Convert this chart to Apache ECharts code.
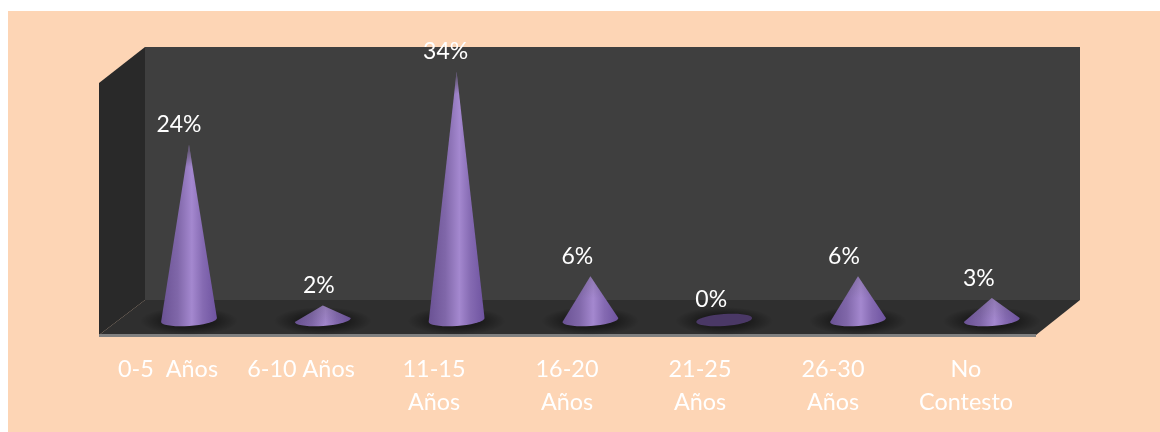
<!DOCTYPE html>
<html>
<head>
<meta charset="utf-8">
<style>html,body{margin:0;padding:0;background:#fff}#c{width:1160px;height:432px}</style>
<script src="https://cdn.jsdelivr.net/npm/echarts@6/dist/echarts.min.js"></script>
</head>
<body>
<div id="c"></div>
<script>
const categories = ['0-5  Años', '6-10 Años', '11-15\nAños', '16-20\nAños', '21-25\nAños', '26-30\nAños', 'No\nContesto'];
const values = [24, 2, 34, 6, 0, 6, 3];
const labelNudge = [-10, -4, -11, -13, -13, -14, -13];

const FONT = 'Lato, "Open Sans", sans-serif';
const RX = 28, RY = 6, TILT = -4 * Math.PI / 180;
const coneFill = {
  type: 'linear', x: 0, y: 0, x2: 1, y2: 0,
  colorStops: [
    { offset: 0, color: '#6a5294' }, { offset: 0.3, color: '#8067a9' },
    { offset: 0.55, color: '#a488cf' }, { offset: 0.75, color: '#856ab2' },
    { offset: 1, color: '#6e53a0' }
  ]
};
const shadowFill = {
  type: 'radial', x: 0.5, y: 0.5, r: 0.5,
  colorStops: [
    { offset: 0, color: 'rgba(0,0,0,0.6)' }, { offset: 0.5, color: 'rgba(0,0,0,0.42)' },
    { offset: 1, color: 'rgba(0,0,0,0)' }
  ]
};

function renderCone(params, api) {
  const i = api.value(0), v = api.value(1);
  const base = api.coord([i, 0]), tip = api.coord([i, v]);
  const cx = base[0], cy = base[1];
  const pts = [];
  for (let a = 0; a <= 180; a += 10) {
    const t = (180 - a) * Math.PI / 180;
    const ex = RX * Math.cos(t), ey = RY * Math.sin(t);
    pts.push([cx + ex * Math.cos(TILT) - ey * Math.sin(TILT),
              cy + ex * Math.sin(TILT) + ey * Math.cos(TILT)]);
  }
  const children = [
    { type: 'circle', x: cx, y: cy + 1, scaleX: 3.5, scaleY: 1,
      shape: { cx: 0, cy: 0, r: 14 }, style: { fill: shadowFill } }
  ];
  if (v > 0) {
    pts.reverse();
    const outline = [[tip[0], tip[1]]].concat(pts);
    const fade = cy - tip[1] > 100 ? 0.75 : 0.2;
    children.push({ type: 'polygon', shape: { points: outline }, style: { fill: coneFill } });
    children.push({ type: 'polygon', shape: { points: outline }, style: { fill: {
      type: 'linear', global: true, x: 0, y: tip[1], x2: 0, y2: tip[1] + 22,
      colorStops: [{ offset: 0, color: 'rgba(60,60,60,' + fade + ')' }, { offset: 1, color: 'rgba(60,60,60,0)' }]
    } } });
  } else {
    children.push({ type: 'polygon', shape: { points: pts.concat(pts.map(p => [2 * cx - p[0], 2 * cy - p[1]])) },
      style: { fill: '#4a3866' } });
  }
  children.push({ type: 'text', z2: 10,
    style: { text: v + '%', x: cx + labelNudge[i], y: tip[1] - 20, fill: '#ffffff',
      fontSize: 23, fontFamily: FONT, align: 'center', verticalAlign: 'middle' } });
  return { type: 'group', children };
}

const chart = echarts.init(document.getElementById('c'), null, { renderer: 'canvas' });
chart.setOption({
  animation: false,
  backgroundColor: '#ffffff',
  graphic: { elements: [
    { type: 'rect', z: -10, shape: { x: 8, y: 11, width: 1152, height: 421 }, style: { fill: '#fdd5b5' } },
    { type: 'rect', z: -9, shape: { x: 145, y: 47, width: 935, height: 253 }, style: { fill: '#3f3f3f' } },
    { type: 'polygon', z: -9, shape: { points: [[99, 83], [145, 47], [145, 300], [99, 335]] }, style: { fill: '#292929' } },
    { type: 'polygon', z: -9, shape: { points: [[99, 335], [145, 300], [1080, 300], [1036, 335]] }, style: { fill: '#2f2f2f' } },
    { type: 'rect', z: -8, shape: { x: 99, y: 334, width: 937, height: 3 }, style: { fill: '#808080' } }
  ] },
  grid: [
    { left: 122.1, width: 936.6, top: 28, height: 292 },
    { left: 101.5, width: 931, top: 47, height: 288 }
  ],
  xAxis: [
    { type: 'category', gridIndex: 0, data: categories, show: false },
    { type: 'category', gridIndex: 1, data: categories,
      axisLine: { show: false },
      axisTick: { show: false },
      axisLabel: { interval: 0, color: '#ffffff', fontFamily: FONT, fontSize: 23.4, lineHeight: 33, margin: 18, hideOverlap: false } }
  ],
  yAxis: [
    { type: 'value', gridIndex: 0, min: 0, max: 40, show: false },
    { type: 'value', gridIndex: 1, min: 0, max: 40, show: false }
  ],
  series: [{
    type: 'custom',
    xAxisIndex: 0, yAxisIndex: 0,
    clip: false,
    renderItem: renderCone,
    encode: { x: 0, y: 1 },
    data: values.map((v, i) => [i, v])
  }]
});
</script>
</body>
</html>
